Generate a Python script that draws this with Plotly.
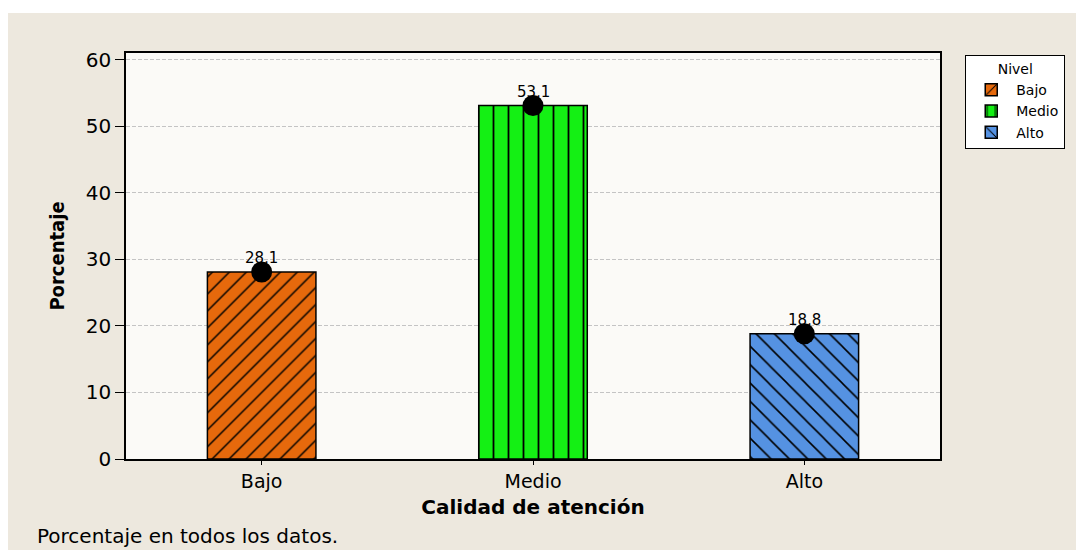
import plotly.graph_objects as go

# Data
categories = ["Bajo", "Medio", "Alto"]
percentages = [28.1, 53.1, 18.8]
bar_colors = ["#e6690c", "#14f014", "#5592e2"]
bar_patterns = ["/", "|", "\\"]
pattern_sizes = [12, 15, 13]
y_ticks = [0, 10, 20, 30, 40, 50, 60]

FONT = "DejaVu Sans"

fig = go.Figure()

for cat, val, color, shape, size in zip(categories, percentages, bar_colors, bar_patterns, pattern_sizes):
    fig.add_trace(
        go.Bar(
            x=[cat],
            y=[val],
            name=cat,
            width=0.4,
            marker=dict(
                color=color,
                line=dict(color="black", width=1.5),
                pattern=dict(
                    shape=shape,
                    fgcolor="black",
                    bgcolor=color,
                    fillmode="replace",
                    size=size,
                    solidity=0.12,
                ),
            ),
        )
    )

# Black dot on top of each bar
fig.add_trace(
    go.Scatter(
        x=categories,
        y=percentages,
        mode="markers",
        marker=dict(size=21, color="black"),
        showlegend=False,
        hoverinfo="skip",
    )
)

# Value labels with comma decimal separator
for cat, val in zip(categories, percentages):
    fig.add_annotation(
        x=cat,
        y=val,
        text=f"{val:.1f}".replace(".", ","),
        showarrow=False,
        yanchor="bottom",
        yshift=3,
        font=dict(family=FONT, size=15, color="black"),
    )

# Footnote
fig.add_annotation(
    xref="paper",
    yref="paper",
    x=-0.112,
    y=-0.19,
    xanchor="left",
    yanchor="middle",
    text="Porcentaje en todos los datos.",
    showarrow=False,
    font=dict(family=FONT, size=20, color="black"),
)

# Thin white strip at the very top of the page
fig.add_shape(
    type="rect",
    xref="paper",
    yref="paper",
    x0=-0.2,
    x1=1.3,
    y0=1.0985,
    y1=1.2,
    fillcolor="white",
    line=dict(width=0),
    layer="below",
)

fig.update_layout(
    width=1084,
    height=550,
    barmode="overlay",
    paper_bgcolor="#ede8de",
    plot_bgcolor="#fbfaf7",
    margin=dict(l=118, r=152, t=45, b=99),
    font=dict(family=FONT, size=18, color="black"),
    xaxis=dict(
        categoryorder="array",
        categoryarray=categories,
        range=[-0.5, 2.5],
        showline=True,
        linecolor="black",
        linewidth=1.5,
        mirror=True,
        ticks="outside",
        ticklen=4,
        tickcolor="black",
        tickfont=dict(family=FONT, size=19),
        title=dict(
            text="<b>Calidad de atención</b>",
            font=dict(family=FONT, size=20),
            standoff=9,
        ),
        showgrid=False,
        fixedrange=True,
    ),
    yaxis=dict(
        range=[0, 61.0],
        tickvals=y_ticks,
        showline=True,
        linecolor="black",
        linewidth=1.5,
        mirror=True,
        ticks="outside",
        ticklen=9,
        tickcolor="black",
        tickfont=dict(family=FONT, size=20),
        showgrid=True,
        gridcolor="#c4c4c4",
        griddash="4px,2px",
        gridwidth=1,
        zeroline=False,
        title=dict(
            text="<b>Porcentaje</b>",
            font=dict(family="DejaVu Sans Condensed, DejaVu Sans", size=20),
            standoff=16,
        ),
        fixedrange=True,
    ),
    legend=dict(
        x=1.031,
        y=0.995,
        xanchor="left",
        yanchor="top",
        bgcolor="white",
        bordercolor="black",
        borderwidth=1,
        font=dict(family=FONT, size=14),
        title=dict(text="Nivel", side="top center", font=dict(family=FONT, size=14)),
        itemwidth=40,
        tracegroupgap=0,
    ),
    showlegend=True,
)

fig.write_html("out.html")
